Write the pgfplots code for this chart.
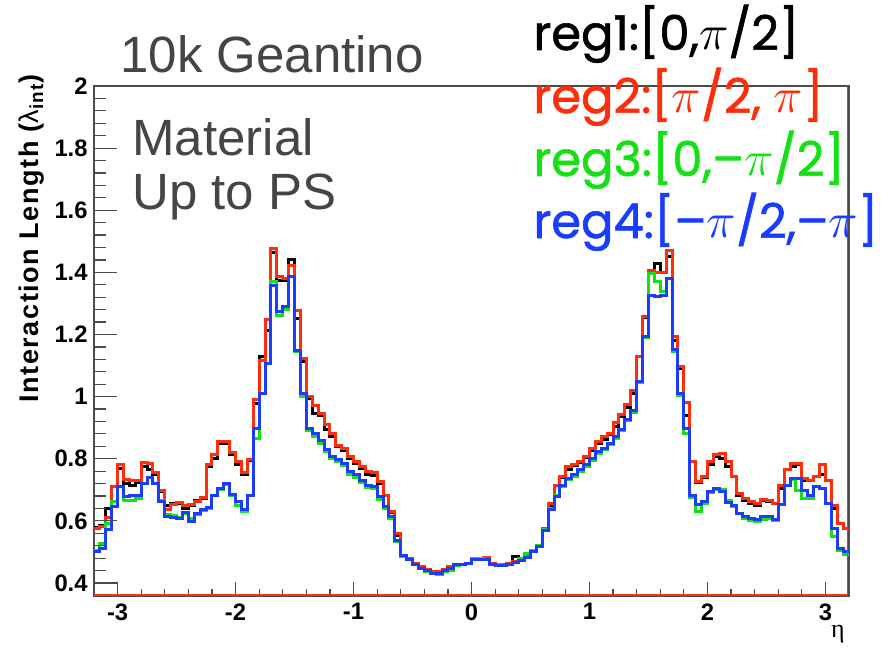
\documentclass[border=0pt]{standalone}
\usepackage{pgfplots}
\pgfplotsset{compat=1.18}
\usepackage{pgfplotstable}
\usepackage{fontspec}
\setmainfont{Liberation Sans}
\newfontfamily\regfont{Poppins}[FakeBold=1.2]
\newfontfamily\serifgr{Liberation Serif}
\definecolor{hred}{RGB}{255,45,10}
\definecolor{hgreen}{RGB}{20,225,20}
\definecolor{hblue}{RGB}{25,60,255}
\definecolor{framegray}{gray}{0.3}
\definecolor{titlegray}{gray}{0.27}

% bin left edge x, reg1 (k), reg2 (r), reg3 (g), reg4 (b)
\pgfplotstableread{
x r k g b
-3.20 0.576 0.580 0.505 0.501
-3.15 0.583 0.585 0.527 0.512
-3.10 0.612 0.640 0.590 0.573
-3.05 0.710 0.712 0.662 0.645
-3.00 0.780 0.770 0.710 0.710
-2.95 0.733 0.720 0.667 0.678
-2.90 0.731 0.715 0.667 0.680
-2.85 0.731 0.725 0.672 0.683
-2.80 0.788 0.775 0.721 0.721
-2.75 0.785 0.765 0.739 0.739
-2.70 0.755 0.750 0.721 0.721
-2.65 0.699 0.695 0.665 0.662
-2.60 0.638 0.650 0.620 0.613
-2.55 0.654 0.655 0.618 0.611
-2.50 0.660 0.655 0.610 0.608
-2.45 0.648 0.640 0.624 0.626
-2.40 0.652 0.650 0.606 0.597
-2.35 0.662 0.667 0.622 0.624
-2.30 0.676 0.672 0.632 0.635
-2.25 0.780 0.775 0.640 0.643
-2.20 0.815 0.801 0.683 0.683
-2.15 0.857 0.850 0.700 0.705
-2.10 0.857 0.850 0.718 0.721
-2.05 0.819 0.812 0.680 0.685
-2.00 0.790 0.780 0.650 0.662
-1.95 0.755 0.748 0.630 0.635
-1.90 0.798 0.795 0.680 0.683
-1.85 0.990 0.978 0.865 0.898
-1.80 1.117 1.130 1.010 1.010
-1.75 1.248 1.214 1.107 1.107
-1.70 1.477 1.465 1.370 1.359
-1.65 1.386 1.375 1.260 1.273
-1.60 1.380 1.375 1.280 1.289
-1.55 1.423 1.440 1.386 1.386
-1.50 1.278 1.250 1.145 1.150
-1.45 1.123 1.112 1.000 1.010
-1.40 1.000 0.994 0.890 0.898
-1.35 0.972 0.945 0.870 0.882
-1.30 0.946 0.940 0.850 0.860
-1.25 0.909 0.895 0.822 0.830
-1.20 0.882 0.870 0.800 0.806
-1.15 0.844 0.838 0.792 0.798
-1.10 0.833 0.828 0.778 0.785
-1.05 0.806 0.800 0.750 0.758
-1.00 0.790 0.783 0.740 0.748
-0.95 0.774 0.768 0.724 0.731
-0.90 0.758 0.750 0.708 0.715
-0.85 0.755 0.745 0.703 0.710
-0.80 0.726 0.720 0.670 0.678
-0.75 0.683 0.680 0.640 0.646
-0.70 0.629 0.628 0.608 0.613
-0.65 0.560 0.552 0.535 0.538
-0.60 0.485 0.484 0.484 0.487
-0.55 0.479 0.478 0.474 0.476
-0.50 0.463 0.462 0.460 0.461
-0.45 0.452 0.451 0.446 0.447
-0.40 0.442 0.441 0.438 0.440
-0.35 0.436 0.436 0.430 0.431
-0.30 0.436 0.436 0.428 0.431
-0.25 0.442 0.441 0.437 0.440
-0.20 0.452 0.451 0.440 0.446
-0.15 0.461 0.460 0.456 0.458
-0.10 0.461 0.460 0.458 0.458
-0.05 0.463 0.463 0.463 0.463
0.00 0.476 0.476 0.478 0.476
0.05 0.476 0.476 0.478 0.476
0.10 0.482 0.478 0.476 0.476
0.15 0.463 0.460 0.460 0.458
0.20 0.460 0.458 0.458 0.456
0.25 0.460 0.458 0.456 0.456
0.30 0.463 0.463 0.460 0.460
0.35 0.470 0.484 0.466 0.466
0.40 0.478 0.478 0.480 0.472
0.45 0.487 0.487 0.494 0.483
0.50 0.502 0.500 0.505 0.500
0.55 0.520 0.520 0.520 0.517
0.60 0.575 0.572 0.573 0.570
0.65 0.656 0.650 0.640 0.635
0.70 0.715 0.715 0.680 0.678
0.75 0.742 0.740 0.712 0.715
0.80 0.774 0.765 0.732 0.737
0.85 0.780 0.778 0.743 0.748
0.90 0.790 0.788 0.760 0.764
0.95 0.806 0.803 0.775 0.780
1.00 0.833 0.828 0.795 0.801
1.05 0.855 0.850 0.818 0.823
1.10 0.871 0.862 0.830 0.833
1.15 0.882 0.878 0.845 0.849
1.20 0.915 0.905 0.866 0.871
1.25 0.943 0.935 0.890 0.895
1.30 0.975 0.965 0.922 0.927
1.35 1.021 1.010 0.950 0.955
1.40 1.128 1.128 1.045 1.048
1.45 1.257 1.255 1.190 1.193
1.50 1.407 1.400 1.396 1.324
1.55 1.400 1.429 1.370 1.321
1.60 1.400 1.400 1.337 1.324
1.65 1.469 1.450 1.380 1.380
1.70 1.193 1.180 1.145 1.152
1.75 1.096 1.090 1.005 1.010
1.80 0.980 0.940 0.882 0.897
1.85 0.790 0.790 0.675 0.683
1.90 0.726 0.722 0.629 0.651
1.95 0.744 0.740 0.655 0.662
2.00 0.790 0.780 0.690 0.694
2.05 0.812 0.806 0.700 0.705
2.10 0.817 0.801 0.700 0.694
2.15 0.790 0.774 0.665 0.658
2.20 0.744 0.742 0.645 0.648
2.25 0.689 0.680 0.624 0.624
2.30 0.672 0.667 0.608 0.613
2.35 0.662 0.655 0.602 0.608
2.40 0.656 0.650 0.597 0.605
2.45 0.669 0.667 0.605 0.613
2.50 0.664 0.662 0.607 0.613
2.55 0.656 0.655 0.600 0.603
2.60 0.715 0.705 0.651 0.651
2.65 0.764 0.764 0.715 0.715
2.70 0.785 0.774 0.732 0.737
2.75 0.785 0.780 0.699 0.737
2.80 0.737 0.731 0.672 0.699
2.85 0.731 0.731 0.672 0.683
2.90 0.742 0.742 0.712 0.710
2.95 0.780 0.748 0.705 0.705
3.00 0.731 0.731 0.656 0.656
3.05 0.648 0.640 0.549 0.576
3.10 0.590 0.590 0.506 0.510
3.15 0.575 0.575 0.493 0.500
3.20 0.575 0.575 0.493 0.500
}\histdata

\begin{document}
\begin{tikzpicture}
\path[use as bounding box] (-47pt,-26pt) rectangle (393.5pt,298pt);
\begin{axis}[
  name=main,
  at={(0pt,0pt)}, anchor=south west,
  scale only axis, width=377.5pt, height=255pt,
  xmin=-3.2, xmax=3.2, ymin=0.358, ymax=2,
  axis line style={framegray, line width=0.6pt},
  xtick={-3,-2,-1,0,1,2,3}, minor x tick num=4,
  ytick=\empty,
  tick align=inside, xtick pos=bottom,
  major tick length=7pt, minor tick length=3.5pt,
  every tick/.style={framegray, line width=0.6pt},
  /pgf/number format/assume math mode=true,
  xticklabel style={font=\fontsize{11.9}{12}\selectfont\bfseries, inner sep=0pt, anchor=north, yshift=-3.5pt},
]
\addplot[const plot, black, line width=1.5pt] table[x=x,y=k]{\histdata};
\addplot[const plot, hred, line width=1.5pt] table[x=x,y=r]{\histdata};
\addplot[const plot, hgreen, line width=1.5pt] table[x=x,y=g]{\histdata};
\addplot[const plot, hblue, line width=1.5pt] table[x=x,y=b]{\histdata};
\end{axis}
\begin{axis}[
  at={(0pt,0pt)}, anchor=south west,
  scale only axis, width=377.5pt, height=255pt,
  xmin=-3.2, xmax=3.2, ymin=0.358, ymax=2,
  axis line style={draw=none},
  xtick=\empty,
  ytick={0.4,0.6,0.8,1,1.2,1.4,1.6,1.8,2}, minor y tick num=4,
  tick align=inside, ytick pos=left,
  major tick length=11.5pt, minor tick length=6pt,
  every tick/.style={framegray, line width=0.6pt},
  /pgf/number format/assume math mode=true,
  yticklabel style={font=\fontsize{11.9}{12}\selectfont\bfseries, inner sep=0pt, anchor=east, xshift=-3pt},
]
\end{axis}
\draw[hred, line width=0.9pt] ([yshift=0.4pt]main.south west) -- ([xshift=-0.8pt,yshift=0.4pt]main.south east) -- ([xshift=-0.8pt]main.north east);
\node[rotate=90, anchor=east, inner sep=0pt, font=\fontsize{13.5}{15}\selectfont\bfseries\addfontfeature{LetterSpace=6}] at (-31pt,261pt) {Interaction Length ({\mdseries λ}\textsubscript{int})};
\node[inner sep=0pt, font=\serifgr\fontsize{13}{14}\selectfont] at (372pt,-19pt) {η};
\node[anchor=base west, inner sep=0pt, text=titlegray, font=\fontsize{25.5}{30}\selectfont] at (13pt,261.5pt) {10k Geantino};
\node[anchor=base west, inner sep=0pt, text=titlegray, font=\fontsize{25.5}{30}\selectfont] at (19pt,220pt) {Material};
\node[anchor=base west, inner sep=0pt, text=titlegray, font=\fontsize{25.5}{30}\selectfont] at (19pt,193pt) {Up to PS};
\node[anchor=base west, inner sep=0pt, text=black, font=\regfont\fontsize{24}{28}\selectfont] at (219.5pt,273pt) {reg1:[0,$\pi$/2]};
\node[anchor=base west, inner sep=0pt, text=hred, font=\regfont\fontsize{24}{28}\selectfont] at (219.5pt,241.5pt) {reg2:[$\pi$/2, $\pi$]};
\node[anchor=base west, inner sep=0pt, text=hgreen, font=\regfont\fontsize{24}{28}\selectfont] at (219.5pt,210pt) {reg3:[0,–$\pi$/2]};
\node[anchor=base west, inner sep=0pt, text=hblue, font=\regfont\fontsize{24}{28}\selectfont] at (219.5pt,179pt) {reg4:[–$\pi$/2,–$\pi$]};
\end{tikzpicture}
\end{document}
